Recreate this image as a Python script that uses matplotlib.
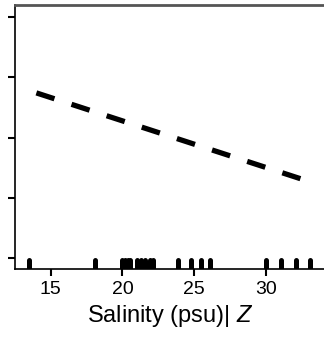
import matplotlib
matplotlib.use("Agg")
import matplotlib.pyplot as plt

plt.rcParams['font.family'] = ['Liberation Sans', 'DejaVu Sans']
plt.rcParams['mathtext.fontset'] = 'custom'
plt.rcParams['mathtext.rm'] = 'Liberation Sans'
plt.rcParams['mathtext.it'] = 'Liberation Sans:italic'

# rug positions (salinity of observations)
salinidad = [13.5, 18.1, 20.0, 20.2, 20.4, 20.5, 21.0, 21.3, 21.6, 21.9, 22.1,
             23.9, 24.75, 25.45, 26.1, 30.0, 31.05, 32.1, 33.05]
# fitted dashed line ends
linea_x = [14.0, 32.9]
linea_y = [2.74, 1.28]
xticks = [15, 20, 25, 30]
yticks = [0, 1, 2, 3, 4]

fig = plt.figure(figsize=(3.24, 3.37), dpi=100)
ax = fig.add_axes([0.0463, 0.2018, 0.96, 0.782])

ax.plot(linea_x, linea_y, color='black', lw=3.8, dashes=(3.6, 3.4))
ax.vlines(salinidad, -0.25, -0.03, color='black', lw=3.6, capstyle='round')

ax.set_xlim(12.51, 34.2)
ax.set_ylim(-0.18, 4.19)
ax.set_xticks(xticks)
ax.set_yticks(yticks)
ax.set_yticklabels([])
ax.tick_params(axis='x', labelsize=14, length=5, width=1.5, pad=4)
ax.tick_params(axis='y', length=5, width=1.5)
ax.spines['right'].set_visible(False)
ax.spines['top'].set_color('#555555')
ax.spines['top'].set_linewidth(2)
ax.spines['left'].set_linewidth(1.2)
ax.spines['bottom'].set_linewidth(1.2)
ax.set_xlabel(r'Salinity (psu)| $\it{Z}$', fontsize=17, labelpad=3)

fig.savefig('out.png', dpi=100)
